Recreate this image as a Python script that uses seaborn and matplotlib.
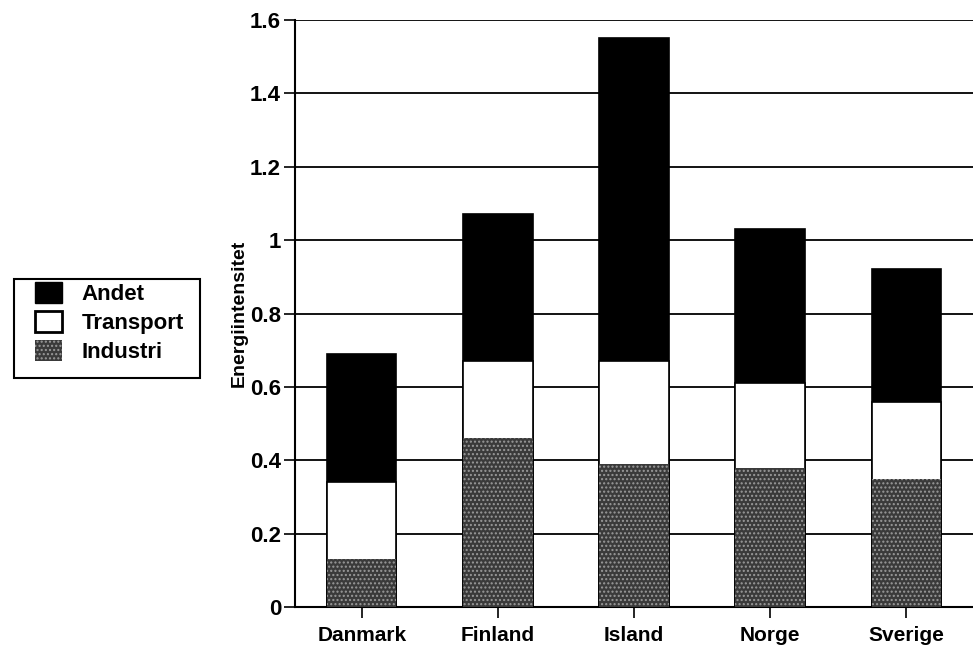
import numpy as np
import pandas as pd
import seaborn as sns
import matplotlib.pyplot as plt
from matplotlib.patches import Patch, Rectangle

# data
lande = ["Danmark", "Finland", "Island", "Norge", "Sverige"]
industri = [0.13, 0.46, 0.39, 0.38, 0.35]
transport = [0.21, 0.21, 0.28, 0.23, 0.21]
andet = [0.35, 0.40, 0.88, 0.42, 0.36]
yticks = [0, 0.2, 0.4, 0.6, 0.8, 1, 1.2, 1.4, 1.6]
ytick_labels = ["0", "0.2", "0.4", "0.6", "0.8", "1", "1.2", "1.4", "1.6"]

df = pd.DataFrame({"land": lande, "Industri": industri, "Transport": transport, "Andet": andet})
df["lag1"] = df["Industri"]
df["lag2"] = df["lag1"] + df["Transport"]
df["lag3"] = df["lag2"] + df["Andet"]

sns.set_style("white")
plt.rcParams["font.family"] = ["Liberation Sans", "DejaVu Sans"]
plt.rcParams["font.weight"] = "bold"
plt.rcParams["text.color"] = "black"
plt.rcParams["axes.labelcolor"] = "black"
plt.rcParams["xtick.color"] = "black"
plt.rcParams["ytick.color"] = "black"

fig = plt.figure(figsize=(9.73, 6.49), dpi=100)
ax = fig.add_axes([295/973, 1-607/649, 1-295/973, (607-20)/649])

# gridlines
for y in yticks:
    ax.axhline(y, color="black", lw=1.3, zorder=0)

# stacked bars: draw totals first, then the lower layers on top
w = 0.51
sns.barplot(data=df, x="land", y="lag3", color="black", width=w, saturation=1,
            edgecolor="black", linewidth=1.2, ax=ax, zorder=2)
sns.barplot(data=df, x="land", y="lag2", color="white", width=w, saturation=1,
            edgecolor="black", linewidth=1.2, ax=ax, zorder=3)
sns.barplot(data=df, x="land", y="lag1", color="#3a3a3a", width=w, saturation=1,
            edgecolor="#9a9a9a", linewidth=0, hatch="....", ax=ax, zorder=4)

ax.set_xlim(-0.49, 4.49)
ax.set_ylim(0, 1.6)
ax.set_yticks(yticks)
ax.set_yticklabels(ytick_labels)
ax.set_xlabel("")
ax.set_ylabel("Energiintensitet", fontsize=14, fontweight="bold", labelpad=2)
ax.tick_params(axis="y", labelsize=16, direction="out", length=8, width=1.2, pad=2)
ax.tick_params(axis="x", labelsize=15, direction="out", length=8, width=1.2, pad=6)
ax.tick_params(left=True, bottom=True)
for s in ["top", "right"]:
    ax.spines[s].set_visible(False)
for s in ["left", "bottom"]:
    ax.spines[s].set_color("black")
    ax.spines[s].set_linewidth(1.5)

# legend at the left, box drawn separately
handles = [Patch(facecolor="black", edgecolor="black"),
           Patch(facecolor="white", edgecolor="black", linewidth=2),
           Patch(facecolor="#3a3a3a", edgecolor="#9a9a9a", hatch="....", linewidth=0)]
leg = fig.legend(handles, ["Andet", "Transport", "Industri"], loc="upper left",
                 bbox_to_anchor=(35/973, 1-282/649), frameon=False,
                 fontsize=16, handlelength=1.2, handleheight=1.1, borderpad=0,
                 labelspacing=0.25, handletextpad=0.9, borderaxespad=0)
fig.patches.append(Rectangle((14/973, 1-378/649), 186/973, 99/649, transform=fig.transFigure,
                             fill=False, edgecolor="black", linewidth=1.5))

fig.savefig("out.png", dpi=100)
